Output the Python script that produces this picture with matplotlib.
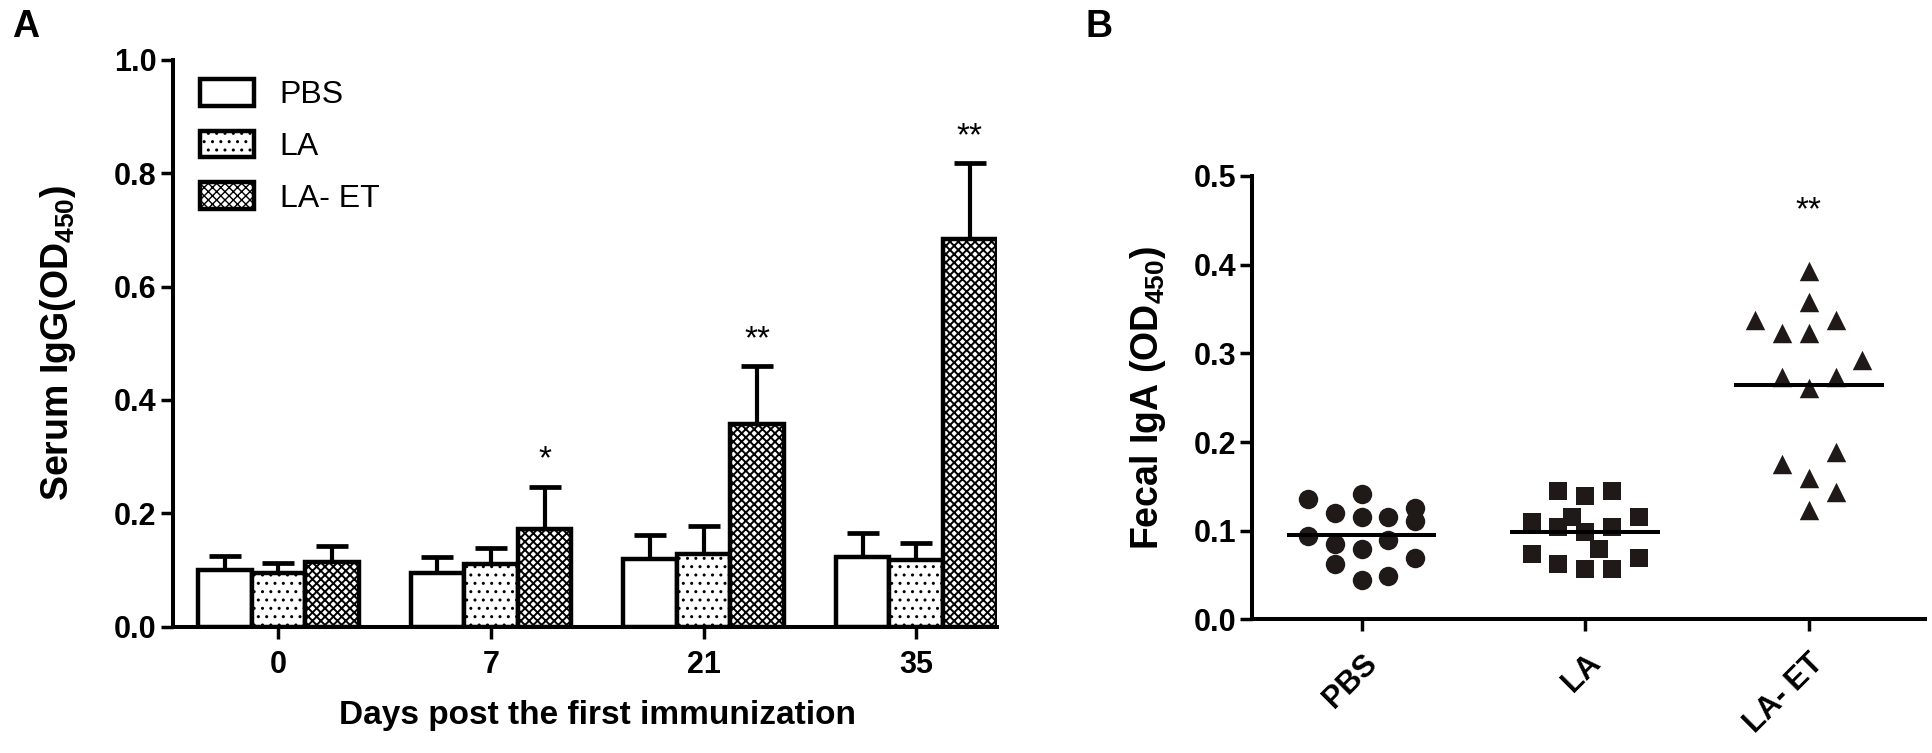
import numpy as np
import matplotlib
matplotlib.use('Agg')
import matplotlib.pyplot as plt

# ---------------- data ----------------
days = ['0', '7', '21', '35']
groups = ['PBS', 'LA', 'LA- ET']
pbs_mean = [0.100, 0.094, 0.120, 0.123]
pbs_err = [0.025, 0.029, 0.041, 0.042]
la_mean = [0.094, 0.110, 0.128, 0.117]
la_err = [0.018, 0.029, 0.050, 0.030]
laet_mean = [0.115, 0.172, 0.358, 0.683]
laet_err = [0.027, 0.075, 0.102, 0.135]
igg_sig = ['', '*', '**', '**']

iga_groups = ['PBS', 'LA', 'LA- ET']
iga_pbs = [0.136, 0.120, 0.115, 0.141, 0.115, 0.126, 0.111, 0.094, 0.085,
           0.063, 0.079, 0.090, 0.069, 0.044, 0.049]
iga_pbs_col = [-4, -2, 0, 0, 2, 4, 4, -4, -2, -2, 0, 2, 4, 0, 2]
iga_la = [0.145, 0.139, 0.145, 0.110, 0.104, 0.115, 0.099, 0.104, 0.115,
          0.080, 0.074, 0.063, 0.057, 0.057, 0.069]
iga_la_col = [-2, 0, 2, -4, -2, -1, 0, 2, 4, 1, -4, -2, 0, 2, 4]
iga_laet = [0.393, 0.358, 0.338, 0.338, 0.323, 0.323, 0.292, 0.273, 0.273,
            0.261, 0.189, 0.175, 0.159, 0.144, 0.124]
iga_laet_col = [0, 0, -4, 2, -2, 0, 4, -2, 2, 0, 2, -2, 0, 2, 0]
iga_sig = ['', '', '**']

# ---------------- style ----------------
plt.rcParams['font.family'] = ['Liberation Sans', 'DejaVu Sans']
plt.rcParams['mathtext.fontset'] = 'custom'
plt.rcParams['mathtext.rm'] = 'Liberation Sans:bold'
plt.rcParams['mathtext.bf'] = 'Liberation Sans:bold'
plt.rcParams['mathtext.it'] = 'Liberation Sans:bold'
plt.rcParams['mathtext.default'] = 'bf'
plt.rcParams['hatch.linewidth'] = 1.0

INK = 'black'
MARK = '#1f1a17'
SPINE_LW = 2.9
TICK_FS = 22

fig = plt.figure(figsize=(19.33, 7.53), dpi=100)
axA = fig.add_axes([0.0893, 0.1677, 0.4265, 0.7530])
axB = fig.add_axes([0.6477, 0.1773, 0.3482, 0.5890])

for ax in (axA, axB):
    for s in ('top', 'right'):
        ax.spines[s].set_visible(False)
    for s in ('left', 'bottom'):
        ax.spines[s].set_linewidth(SPINE_LW)
        ax.spines[s].set_color(INK)
    ax.tick_params(axis='both', width=2.5, length=8.5, color=INK,
                   labelsize=TICK_FS)

# ---------------- Panel A ----------------
x = np.arange(len(days))
w = 0.252
means = [pbs_mean, la_mean, laet_mean]
errs = [pbs_err, la_err, laet_err]
hatches = [None, '..', 'xxxx']
hatch_lw = [1.0, 1.0, 1.4]
for k in range(3):
    xs = x + (k - 1) * w
    with plt.rc_context({'hatch.linewidth': hatch_lw[k]}):
        axA.bar(xs, means[k], w, facecolor='white', edgecolor=INK,
                linewidth=3.2, hatch=hatches[k], label=groups[k], zorder=2)
    axA.errorbar(xs, means[k], yerr=[np.zeros(len(days)), errs[k]], fmt='none',
                 ecolor=INK, elinewidth=3.0, capsize=11.5, capthick=3.4,
                 zorder=1)
for i, s in enumerate(igg_sig):
    if s:
        top = laet_mean[i] + laet_err[i]
        axA.annotate(s, xy=(x[i] + w, top), xytext=(0, 8),
                     textcoords='offset points', ha='center', va='bottom',
                     fontsize=24, color=INK)

axA.set_xlim(-0.497, 3.38)
axA.set_ylim(0, 1.0)
axA.set_yticks(np.arange(0, 1.01, 0.2))
axA.set_yticklabels([f'{v:.1f}' for v in np.arange(0, 1.01, 0.2)],
                    fontweight='bold', fontsize=TICK_FS)
axA.set_xticks(x)
axA.set_xticklabels(days, fontweight='bold', fontsize=TICK_FS)
axA.tick_params(axis='y', pad=3)
axA.tick_params(axis='x', pad=8)
axA.set_xlabel('Days post the first immunization', fontsize=24,
               fontweight='bold')
axA.xaxis.set_label_coords(0.515, -0.13)
axA.set_ylabel('Serum IgG(OD$_{450}$)', fontsize=27, fontweight='bold')
axA.yaxis.set_label_coords(-0.115, 0.5)

leg = axA.legend(loc='upper left', bbox_to_anchor=(0.033, 0.966),
                 frameon=False, fontsize=23, handlelength=1.7,
                 handleheight=0.9, handletextpad=0.8, labelspacing=0.64,
                 borderpad=0, borderaxespad=0)

# ---------------- Panel B ----------------
cats = np.arange(1, 4)
step = 0.06
sets = [(iga_pbs, iga_pbs_col, 'o', 14.0),
        (iga_la, iga_la_col, 's', 13.3),
        (iga_laet, iga_laet_col, '^', 14.0)]
for c, (vals, cols, mk, ms) in zip(cats, sets):
    xs = c + np.array(cols) * step
    axB.scatter(xs, vals, marker=mk, s=ms ** 2, color=MARK, zorder=3,
                linewidths=0)
    axB.hlines(np.mean(vals), c - 0.335, c + 0.335, color=INK, lw=2.9,
               zorder=4)
for c, vals, s in zip(cats, [iga_pbs, iga_la, iga_laet], iga_sig):
    if s:
        axB.annotate(s, xy=(c, max(vals)), xytext=(0, 32),
                     textcoords='offset points', ha='center', va='bottom',
                     fontsize=24, color=INK)

axB.set_xlim(0.51, 3.52)
axB.set_ylim(0, 0.5)
axB.set_yticks(np.arange(0, 0.51, 0.1))
axB.set_yticklabels([f'{v:.1f}' for v in np.arange(0, 0.51, 0.1)],
                    fontweight='bold', fontsize=TICK_FS)
axB.set_xticks(cats)
axB.set_xticklabels(iga_groups, fontweight='bold', fontsize=TICK_FS,
                    rotation=45, ha='right', va='top',
                    rotation_mode='anchor')
axB.tick_params(axis='y', pad=3)
axB.tick_params(axis='x', pad=12)
axB.set_ylabel('Fecal IgA (OD$_{450}$)', fontsize=27, fontweight='bold')
axB.yaxis.set_label_coords(-0.125, 0.5)

fig.text(12 / 1933, 0.988, 'A', fontsize=27, fontweight='bold', va='top',
         ha='left')
fig.text(1086 / 1933, 0.988, 'B', fontsize=27, fontweight='bold', va='top',
         ha='left')

fig.savefig('out.png', dpi=100)
